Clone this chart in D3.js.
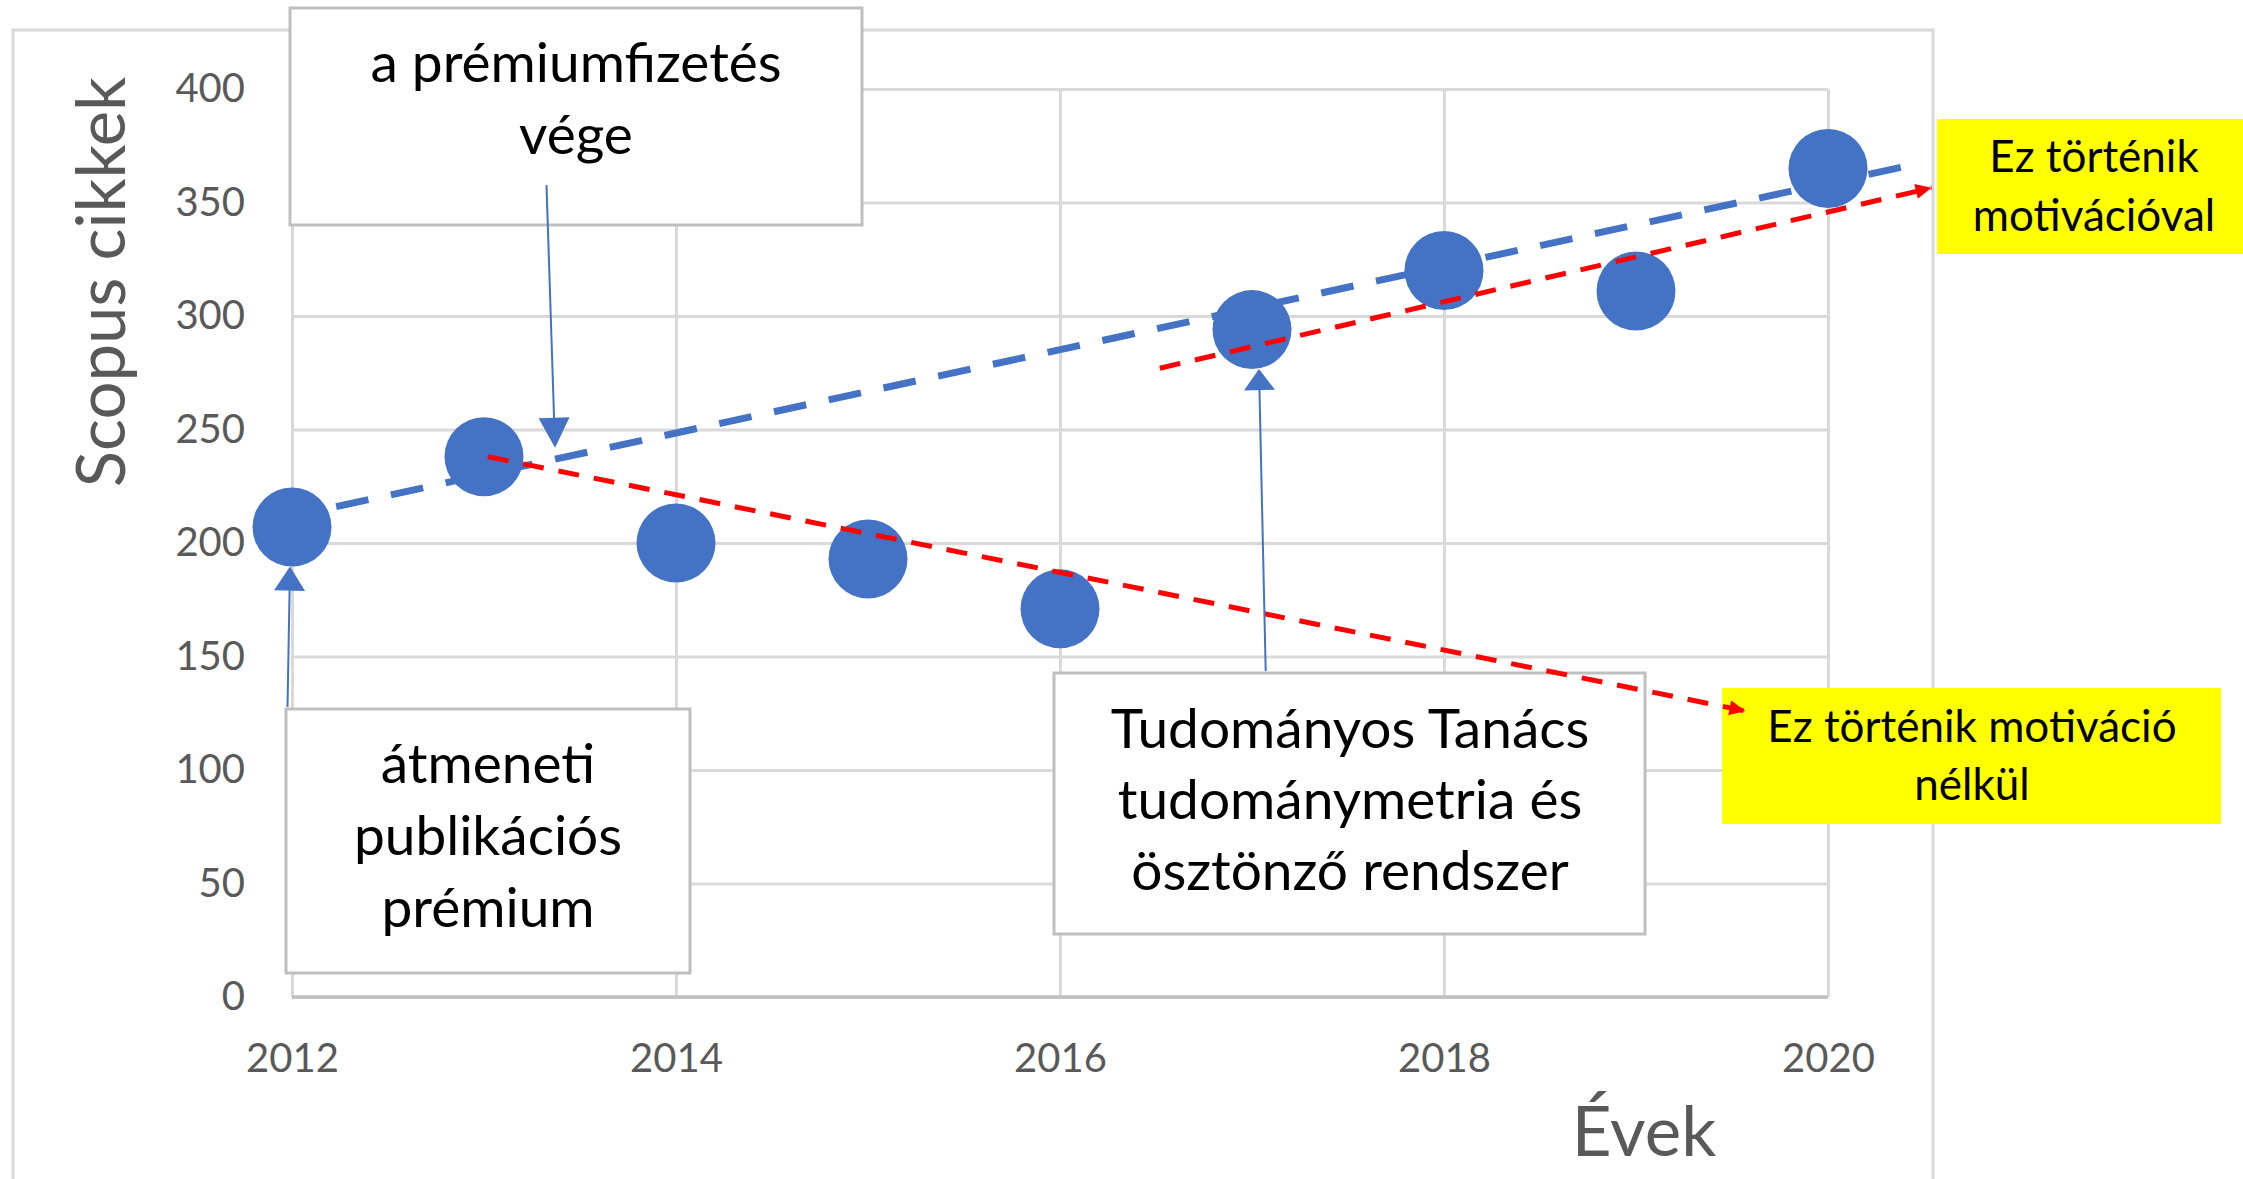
<!DOCTYPE html>
<html>
<head>
  <meta charset="utf-8">
  <title>Scopus cikkek</title>
  <script src="https://d3js.org/d3.v7.min.js"></script>
  <style>
    body { margin: 0; background: #fff; }
    text { font-family: Lato, "Open Sans", sans-serif; }
  </style>
</head>
<body>
<script>
// Values
var years = [2012, 2013, 2014, 2015, 2016, 2017, 2018, 2019, 2020];
var articles = [207, 238, 200, 193, 171, 294, 320, 311, 365];
var xTicks = [2012, 2014, 2016, 2018, 2020];
var yTicks = [0, 50, 100, 150, 200, 250, 300, 350, 400];

// hand drawn trend lines, [year, value] end points
var blueTrend = [[2012.23, 216], [2020.38, 365.5]];
var redDown = [[2013.02, 238], [2019.57, 126]];
var redUp = [[2016.52, 277], [2020.54, 356.5]];

var width = 2243,
    height = 1179,
    dotR = 39.5,
    blue = '#4472C4';

var svg = d3.select('body')
  .append('svg')
  .attr('width', width)
  .attr('height', height);

var x = d3.scaleLinear().domain([2012, 2020]).range([292, 1828]);
var y = d3.scaleLinear().domain([0, 400]).range([997, 89]);

// outer chart area border (runs off the bottom of the picture)
svg.append('rect')
  .attr('x', 13).attr('y', 30)
  .attr('width', 1920).attr('height', 1200)
  .attr('fill', 'none')
  .attr('stroke', '#d9d9d9')
  .attr('stroke-width', 3);

// y axis + horizontal gridlines
var yAxis = svg.append('g')
  .attr('transform', 'translate(' + x(2012) + ',0)')
  .call(d3.axisLeft(y).tickValues(yTicks).tickSize(-(x(2020) - x(2012))).tickPadding(47));

// x axis + vertical gridlines
var xAxis = svg.append('g')
  .attr('transform', 'translate(0,' + y(0) + ')')
  .call(d3.axisBottom(x).tickValues(xTicks).tickFormat(d3.format('d')).tickSize(-(y(0) - y(400))).tickPadding(47));

[yAxis, xAxis].forEach(function(a) {
  a.select('.domain').remove();
  a.selectAll('line').attr('stroke', '#d9d9d9').attr('stroke-width', 3);
  a.selectAll('text')
    .attr('fill', '#595959')
    .style('font-size', '40px')
    .style('font-family', 'Lato, sans-serif');
});

// bottom axis line
svg.append('line')
  .attr('x1', x(2012)).attr('x2', x(2020))
  .attr('y1', y(0)).attr('y2', y(0))
  .attr('stroke', '#bfbfbf')
  .attr('stroke-width', 3.5);

// data points
svg.append('g').selectAll('circle')
  .data(years)
  .enter()
  .append('circle')
  .attr('cx', function(d) { return x(d); })
  .attr('cy', function(d, i) { return y(articles[i]); })
  .attr('r', dotR)
  .attr('fill', blue);

var line = d3.line()
  .x(function(d) { return x(d[0]); })
  .y(function(d) { return y(d[1]); });

// blue dashed trend
svg.append('path')
  .attr('d', line(blueTrend))
  .attr('fill', 'none')
  .attr('stroke', blue)
  .attr('stroke-width', 7)
  .attr('stroke-dasharray', '33,23');

// triangle arrow head, tip at p, pointing away from q
function head(p, q, len, w) {
  var dx = p[0] - q[0], dy = p[1] - q[1];
  var l = Math.sqrt(dx * dx + dy * dy);
  var ux = dx / l, uy = dy / l;
  var bx = p[0] - ux * len, by = p[1] - uy * len;
  return 'M' + p[0] + ',' + p[1] +
    'L' + (bx - uy * w / 2) + ',' + (by + ux * w / 2) +
    'L' + (bx + uy * w / 2) + ',' + (by - ux * w / 2) + 'Z';
}

function textLines(g, lines, cx, base, step, size) {
  g.selectAll(null)
    .data(lines)
    .enter()
    .append('text')
    .attr('x', cx)
    .attr('y', function(d, i) { return base + i * step; })
    .attr('text-anchor', 'middle')
    .attr('fill', '#000')
    .style('font-size', size + 'px')
    .text(function(d) { return d; });
}

// white annotation boxes with blue arrows
var notes = [
  { lines: ['a prémiumfizetés', 'vége'], box: [290, 8, 572, 217], cx: 576, base: 82, step: 72,
    from: [546.5, 185], tip: [x(2013.37), y(242)], len: 30 },
  { lines: ['átmeneti', 'publikációs', 'prémium'], box: [286, 709, 404, 264], cx: 488, base: 783, step: 72,
    from: [287.5, 707], tip: [x(years[0]) - 2, y(articles[0]) + dotR], len: 24 },
  { lines: ['Tudományos Tanács', 'tudománymetria és', 'ösztönző rendszer'], box: [1054, 673, 591, 261], cx: 1350, base: 748, step: 71,
    from: [1265.7, 671], tip: [x(years[5]) + 7, y(articles[5]) + dotR], len: 21 }
];

notes.forEach(function(n) {
  var g = svg.append('g');
  g.append('rect')
    .attr('x', n.box[0]).attr('y', n.box[1])
    .attr('width', n.box[2]).attr('height', n.box[3])
    .attr('fill', '#fff')
    .attr('stroke', '#bfbfbf')
    .attr('stroke-width', 3);
  textLines(g, n.lines, n.cx, n.base, n.step, 55);
});

// yellow outcome boxes
var outcomes = [
  { lines: ['Ez történik', 'motivációval'], box: [1937, 119, 330, 135], cx: 2094, base: 172, step: 59 },
  { lines: ['Ez történik motiváció', 'nélkül'], box: [1722, 688, 499, 136], cx: 1972, base: 742, step: 58 }
];

outcomes.forEach(function(n) {
  var g = svg.append('g');
  g.append('rect')
    .attr('x', n.box[0]).attr('y', n.box[1])
    .attr('width', n.box[2]).attr('height', n.box[3])
    .attr('fill', '#ffff00');
  textLines(g, n.lines, n.cx, n.base, n.step, 44);
});

// red dashed projections with arrow heads
[redDown, redUp].forEach(function(r) {
  var p = [x(r[1][0]), y(r[1][1])], q = [x(r[0][0]), y(r[0][1])];
  svg.append('path')
    .attr('d', line(r))
    .attr('fill', 'none')
    .attr('stroke', '#ff0000')
    .attr('stroke-width', 5)
    .attr('stroke-dasharray', '21,15');
  svg.append('path')
    .attr('d', head(p, q, 16, 15))
    .attr('fill', '#ff0000');
});

// blue annotation arrows
notes.forEach(function(n) {
  var dx = n.tip[0] - n.from[0], dy = n.tip[1] - n.from[1];
  var l = Math.sqrt(dx * dx + dy * dy);
  svg.append('line')
    .attr('x1', n.from[0]).attr('y1', n.from[1])
    .attr('x2', n.tip[0] - dx / l * (n.len - 2)).attr('y2', n.tip[1] - dy / l * (n.len - 2))
    .attr('stroke', blue)
    .attr('stroke-width', 2);
  svg.append('path')
    .attr('d', head(n.tip, n.from, n.len, 31))
    .attr('fill', blue);
});

// axis titles
svg.append('text')
  .attr('transform', 'translate(125,282) rotate(-90)')
  .attr('text-anchor', 'middle')
  .attr('fill', '#595959')
  .style('font-size', '67px')
  .text('Scopus cikkek');

svg.append('text')
  .attr('x', 1644)
  .attr('y', 1156)
  .attr('text-anchor', 'middle')
  .attr('fill', '#595959')
  .style('font-size', '69px')
  .text('Évek');
</script>
</body>
</html>
